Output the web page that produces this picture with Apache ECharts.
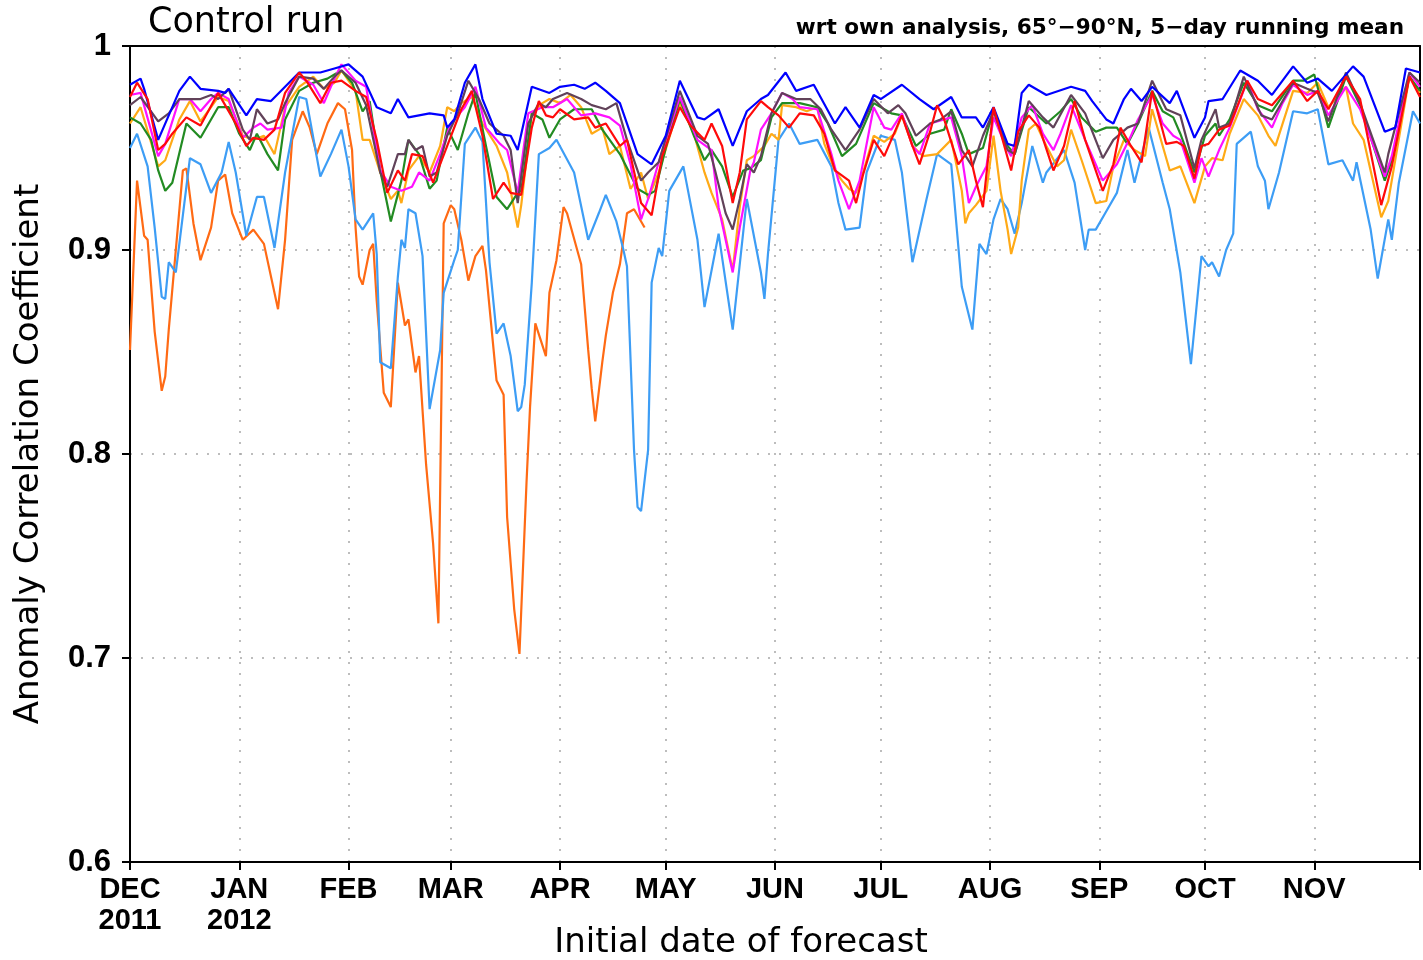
<!DOCTYPE html>
<html>
<head>
<meta charset="utf-8">
<script src="https://cdn.jsdelivr.net/npm/echarts@6/dist/echarts.min.js"></script>
<style>html,body{margin:0;padding:0;background:#fff;}#c{width:1423px;height:960px;}</style>
</head>
<body>
<div id="c"></div>
<script>
// Dates are day offsets from 1 Dec 2011
const START = Date.UTC(2011, 11, 1);
const DAY = 86400000;
const tickLabels = ['DEC\n2011','JAN\n2012','FEB','MAR','APR','MAY','JUN','JUL','AUG','SEP','OCT','NOV'];
const yTicks = [0.6, 0.7, 0.8, 0.9, 1];

const darkOrange = [[0,.851],[2,.934],[4,.907],[5,.905],[7,.860],[9,.831],[10,.838],[11,.861],[15,.939],[16,.940],[18,.913],[20,.895],[23,.911],[25,.934],[27,.937],[29,.918],[32,.905],[35,.910],[38,.903],[42,.871],[44,.905],[46,.954],[49,.968],[51,.960],[53,.947],[56,.962],[59,.972],[61,.969],[63,.949],[64,.911],[65,.887],[66,.883],[68,.900],[69,.903],[70,.875],[72,.830],[74,.823],[76,.884],[78,.863],[79,.866],[81,.840],[82,.848],[84,.795],[86,.756],[87.5,.717],[89,.913],[91,.922],[92,.920],[94,.905],[96,.885],[98,.897],[100,.902],[101,.890],[104,.836],[106,.829],[107,.769],[109,.724],[110.5,.702],[112.5,.786],[113.5,.823],[115,.864],[118,.848],[119,.879],[121,.895],[123,.921],[124,.918],[128,.893],[130,.851],[131,.832],[132,.816],[134,.845],[135,.858],[137,.879],[139,.893],[141,.918],[143,.920],[146,.911]];

const lightBlue = [[0,.950],[2,.957],[5,.941],[7,.911],[9,.877],[10,.876],[11,.894],[13,.889],[17,.945],[20,.942],[23,.928],[26,.938],[28,.953],[30,.938],[33,.907],[36,.926],[38,.926],[41,.901],[44,.938],[48,.975],[50,.974],[54,.936],[57,.947],[60,.959],[62,.941],[64,.915],[66,.910],[69,.918],[70,.898],[71,.845],[74,.842],[76,.887],[77,.905],[78,.901],[79,.920],[81,.918],[83,.897],[85,.822],[88,.851],[89,.879],[92,.895],[93,.900],[95,.952],[98,.960],[100,.953],[102,.894],[104,.859],[106,.864],[108,.848],[110,.821],[111,.823],[112,.834],[114,.884],[116,.947],[119,.950],[121,.954],[126,.938],[130,.905],[133,.918],[135,.927],[138,.914],[140,.900],[141,.892],[143,.802],[144,.774],[145,.772],[147,.802],[148,.884],[150,.901],[151,.897],[153,.929],[157,.941],[161,.905],[163,.872],[167,.908],[171,.861],[175,.925],[179,.889],[180,.876],[181,.898],[184,.954],[187,.962],[190,.952],[195,.954],[199,.941],[201,.923],[203,.910],[207,.911],[209,.938],[213,.956],[217,.954],[219,.938],[222,.894],[226,.925],[229,.947],[233,.942],[236,.882],[239,.861],[241,.903],[243,.898],[245,.915],[247,.925],[249,.920],[251,.908],[253,.923],[256,.951],[259,.933],[260,.938],[265,.949],[268,.933],[271,.900],[272,.910],[274,.910],[277,.919],[280,.928],[283,.949],[285,.933],[289,.960],[293,.933],[295,.920],[298,.889],[301,.844],[304,.897],[306,.892],[307,.894],[309,.887],[311,.900],[313,.908],[314,.952],[318,.958],[320,.941],[322,.934],[323,.920],[326,.938],[330,.968],[334,.967],[337,.969],[340,.942],[344,.944],[347,.934],[348,.943],[352,.910],[354,.886],[357,.915],[358,.905],[360,.933],[364,.968],[366,.962]];

const yellow = [[0,.962],[3,.970],[8,.941],[10,.944],[14,.964],[17,.973],[20,.963],[23,.970],[25,.975],[28,.973],[32,.956],[35,.954],[38,.956],[41,.947],[44,.970],[48,.980],[52,.985],[55,.979],[58,.982],[60,.988],[64,.978],[66,.954],[68,.954],[71,.938],[74,.925],[76,.929],[77,.923],[79,.939],[82,.946],[85,.938],[88,.951],[90,.970],[92,.968],[94,.972],[97,.975],[100,.962],[104,.951],[107,.938],[110,.911],[111,.922],[114,.967],[117,.972],[119,.974],[122,.972],[125,.976],[128,.970],[131,.957],[134,.960],[136,.947],[139,.951],[142,.930],[145,.938],[147,.925],[150,.938],[156,.972],[160,.957],[163,.938],[165,.928],[168,.915],[171,.890],[173,.921],[175,.944],[177,.946],[180,.951],[182,.957],[184,.954],[185,.971],[189,.970],[192,.968],[195,.970],[197,.952],[200,.939],[202,.934],[204,.930],[206,.928],[208,.938],[211,.956],[214,.953],[217,.957],[219,.966],[222,.951],[225,.946],[229,.947],[233,.954],[236,.929],[237,.913],[238,.918],[240,.922],[243,.929],[245,.956],[247,.929],[249,.910],[250,.898],[252,.911],[253,.934],[255,.959],[257,.962],[260,.951],[263,.941],[265,.944],[267,.959],[270,.944],[274,.923],[277,.924],[279,.941],[282,.954],[285,.949],[288,.946],[290,.969],[293,.951],[295,.939],[298,.941],[302,.923],[305,.941],[307,.945],[310,.944],[312,.957],[316,.974],[320,.966],[323,.956],[325,.951],[330,.978],[334,.977],[337,.982],[340,.970],[345,.980],[347,.962],[350,.954],[355,.916],[357,.924],[363,.985],[366,.977]];

const green = [[0,.965],[3,.962],[6,.954],[8,.939],[10,.929],[12,.933],[16,.962],[20,.955],[25,.970],[28,.970],[31,.957],[34,.949],[36,.957],[39,.947],[42,.939],[44,.964],[48,.978],[52,.982],[56,.984],[58,.986],[60,.988],[63,.982],[66,.968],[68,.973],[71,.939],[74,.914],[77,.934],[79,.954],[82,.947],[85,.930],[87,.934],[90,.960],[93,.949],[96,.967],[98,.977],[101,.951],[104,.926],[107,.920],[110,.928],[111,.929],[114,.967],[117,.964],[119,.955],[122,.964],[126,.969],[131,.969],[134,.959],[139,.947],[144,.930],[147,.927],[149,.929],[152,.950],[156,.974],[160,.956],[163,.944],[165,.949],[168,.941],[171,.926],[174,.939],[176,.940],[179,.944],[182,.965],[185,.972],[190,.972],[195,.970],[198,.962],[202,.946],[206,.952],[211,.972],[216,.967],[219,.966],[223,.951],[227,.957],[231,.959],[233,.969],[236,.957],[238,.947],[242,.950],[245,.969],[249,.951],[251,.947],[255,.970],[260,.962],[264,.968],[267,.974],[270,.965],[274,.958],[277,.960],[280,.960],[283,.952],[286,.962],[290,.978],[293,.968],[296,.965],[298,.957],[302,.938],[305,.956],[308,.962],[309,.956],[312,.964],[316,.982],[320,.971],[324,.968],[330,.983],[333,.983],[336,.986],[340,.960],[345,.985],[349,.971],[356,.934],[358,.944],[363,.985],[366,.978]];

const magenta = [[0,.976],[3,.977],[8,.946],[10,.952],[14,.974],[17,.974],[20,.968],[23,.974],[25,.977],[28,.974],[32,.955],[35,.960],[37,.962],[39,.959],[43,.960],[45,.977],[48,.985],[52,.981],[55,.972],[58,.984],[60,.991],[64,.983],[67,.980],[71,.939],[74,.931],[77,.929],[80,.931],[82,.938],[85,.934],[88,.947],[91,.962],[95,.970],[98,.980],[101,.960],[105,.952],[107,.949],[110,.928],[113,.967],[117,.970],[120,.970],[124,.974],[128,.966],[132,.967],[136,.965],[139,.961],[142,.942],[145,.915],[147,.925],[150,.943],[156,.975],[161,.954],[165,.949],[167,.921],[171,.889],[173,.911],[176,.939],[177,.943],[179,.959],[182,.967],[185,.977],[188,.974],[190,.970],[195,.969],[199,.947],[201,.934],[204,.920],[207,.934],[211,.970],[214,.960],[216,.959],[219,.967],[222,.951],[224,.947],[227,.962],[233,.965],[236,.946],[238,.923],[240,.931],[243,.941],[245,.965],[249,.949],[250,.946],[253,.965],[256,.971],[259,.957],[262,.949],[264,.957],[267,.971],[271,.954],[276,.934],[280,.942],[284,.956],[286,.964],[290,.976],[293,.962],[296,.956],[298,.954],[302,.933],[304,.945],[306,.936],[309,.949],[312,.960],[317,.983],[320,.969],[324,.960],[327,.972],[330,.981],[334,.976],[337,.978],[340,.966],[345,.980],[349,.969],[356,.936],[358,.946],[363,.987],[366,.980]];

const brown = [[0,.971],[3,.975],[8,.963],[11,.967],[14,.974],[17,.974],[20,.974],[23,.976],[25,.974],[28,.979],[32,.959],[34,.954],[36,.969],[39,.962],[42,.964],[44,.972],[48,.985],[52,.984],[55,.979],[58,.985],[60,.988],[64,.982],[67,.971],[71,.938],[73,.931],[76,.947],[78,.947],[79,.954],[81,.949],[83,.951],[85,.936],[87,.938],[90,.956],[93,.967],[96,.983],[99,.974],[102,.962],[104,.959],[106,.956],[108,.949],[110,.923],[113,.962],[116,.972],[118,.970],[120,.974],[124,.977],[128,.974],[131,.971],[135,.969],[138,.972],[141,.954],[145,.934],[147,.938],[150,.943],[156,.978],[161,.956],[164,.952],[166,.939],[169,.918],[171,.910],[173,.925],[175,.942],[177,.938],[179,.946],[182,.967],[185,.977],[189,.974],[193,.974],[196,.969],[199,.959],[203,.949],[207,.959],[211,.974],[215,.967],[218,.971],[220,.967],[223,.956],[227,.962],[230,.964],[233,.968],[236,.949],[239,.941],[242,.956],[245,.968],[249,.949],[251,.947],[253,.960],[255,.973],[259,.965],[262,.960],[267,.976],[271,.967],[276,.945],[279,.954],[283,.960],[286,.962],[290,.983],[294,.969],[298,.966],[302,.940],[304,.954],[308,.969],[309,.960],[312,.962],[316,.985],[321,.966],[324,.964],[330,.982],[334,.979],[337,.977],[340,.963],[345,.987],[349,.972],[356,.938],[357,.947],[363,.987],[366,.982]];

const blue = [[0,.981],[3,.984],[4,.979],[8,.954],[14,.978],[17,.985],[20,.979],[25,.978],[27,.977],[28,.979],[33,.966],[36,.974],[40,.973],[44,.980],[48,.987],[54,.987],[58,.989],[62,.991],[66,.985],[70,.970],[74,.967],[76,.974],[79,.965],[85,.967],[89,.966],[90,.960],[92,.964],[95,.982],[98,.991],[100,.974],[104,.957],[108,.956],[110,.949],[114,.980],[119,.977],[122,.980],[126,.981],[129,.979],[132,.982],[135,.978],[139,.972],[144,.947],[148,.942],[152,.956],[156,.983],[161,.965],[163,.964],[167,.969],[171,.951],[175,.968],[179,.974],[181,.976],[186,.987],[189,.978],[194,.981],[200,.962],[203,.970],[207,.960],[211,.976],[213,.974],[219,.981],[224,.974],[228,.969],[233,.975],[236,.965],[240,.965],[242,.960],[245,.970],[249,.952],[251,.951],[253,.977],[255,.981],[260,.976],[267,.980],[271,.978],[273,.973],[277,.964],[279,.962],[282,.974],[284,.979],[287,.973],[290,.980],[295,.972],[297,.978],[302,.955],[305,.965],[306,.973],[310,.974],[315,.988],[320,.983],[324,.976],[330,.990],[334,.982],[337,.984],[341,.978],[347,.990],[350,.985],[356,.958],[359,.960],[362,.989],[366,.987]];

const red = [[0,.975],[2,.982],[5,.974],[8,.949],[10,.952],[12,.957],[16,.965],[20,.961],[25,.977],[27,.971],[30,.962],[33,.951],[35,.955],[38,.954],[41,.959],[44,.977],[48,.987],[50,.983],[54,.972],[57,.982],[60,.983],[64,.978],[67,.975],[70,.954],[73,.928],[76,.939],[78,.934],[80,.947],[83,.946],[86,.933],[90,.951],[94,.969],[97,.978],[100,.956],[103,.925],[106,.933],[108,.928],[111,.927],[114,.960],[116,.973],[118,.966],[120,.965],[122,.969],[126,.964],[130,.965],[132,.960],[135,.962],[139,.951],[141,.954],[145,.923],[148,.917],[151,.946],[156,.970],[159,.961],[163,.954],[165,.962],[168,.951],[171,.923],[173,.938],[175,.964],[179,.973],[181,.970],[184,.966],[187,.960],[190,.967],[194,.966],[197,.957],[200,.939],[204,.934],[206,.923],[208,.937],[211,.954],[214,.946],[217,.958],[219,.966],[222,.951],[224,.942],[227,.958],[229,.971],[231,.964],[235,.942],[238,.949],[240,.934],[242,.921],[245,.970],[250,.939],[252,.958],[255,.966],[258,.960],[262,.939],[265,.951],[268,.973],[271,.954],[276,.929],[279,.942],[281,.960],[284,.951],[287,.943],[290,.978],[294,.952],[297,.953],[299,.951],[302,.935],[304,.951],[306,.952],[309,.959],[312,.961],[317,.983],[320,.974],[324,.971],[330,.983],[334,.973],[337,.978],[340,.969],[345,.985],[349,.974],[355,.922],[358,.941],[363,.985],[366,.975]];

const seriesDefs = [
  {name:'orange', data: darkOrange, color:'#ff6a14'},
  {name:'lightblue', data: lightBlue, color:'#3d9df5'},
  {name:'yellow', data: yellow, color:'#ffaa16'},
  {name:'green', data: green, color:'#228b22'},
  {name:'magenta', data: magenta, color:'#ff10ff'},
  {name:'brown', data: brown, color:'#614259'},
  {name:'blue', data: blue, color:'#0000ff'},
  {name:'red', data: red, color:'#ff0a0a'}
];

const chart = echarts.init(document.getElementById('c'), null, {renderer:'canvas'});
const tickFont = "'Liberation Sans', 'DejaVu Sans', sans-serif";
const dotted = {color:'#a8a8a8', width:1.5, type:[2,9]};
const frameLine = {show:true, lineStyle:{color:'#000', width:2}};

chart.setOption({
  useUTC: true,
  animation: false,
  backgroundColor: '#fff',
  title: [
    {text:'Control run', left:143, top:0, textStyle:{fontFamily:'DejaVu Sans', fontSize:35, fontWeight:'normal', color:'#000'}},
    {text:'wrt own analysis, 65°−90°N, 5−day running mean', right:14, top:12, textStyle:{fontFamily:'DejaVu Sans', fontSize:21.6, fontWeight:'bold', color:'#000'}}
  ],
  grid: {left:130, right:3, top:46, bottom:98, outerBoundsMode:'none', containLabel:false, show:false},
  xAxis: [{
    type:'time',
    min: START,
    max: START + 366*DAY,
    splitNumber: 12,
    minInterval: 28*DAY,
    maxInterval: 31*DAY,
    name:'Initial date of forecast',
    nameLocation:'middle',
    nameMoveOverlap: false,
    nameGap: 64,
    nameTextStyle:{fontFamily:'DejaVu Sans', fontSize:34, color:'#000', padding:[0,68,0,0]},
    axisLine: frameLine,
    axisTick:{show:true, length:8, lineStyle:{color:'#000', width:2}},
    axisLabel:{
      show:true, margin:12, color:'#000', fontFamily:tickFont, fontWeight:'bold', fontSize:29, lineHeight:31,
      showMinLabel:true, showMaxLabel:false,
      formatter: function(v){
        const d = new Date(v);
        const i = (d.getUTCFullYear()-2011)*12 + d.getUTCMonth() - 11;
        return (i>=0 && i<tickLabels.length) ? tickLabels[i] : '';
      }
    },
    splitLine:{show:true, lineStyle:dotted}
  }, {
    type:'value', position:'top', min:0, max:1,
    axisLine: frameLine, axisTick:{show:false}, axisLabel:{show:false}, splitLine:{show:false}
  }],
  yAxis: [{
    type:'value',
    min: yTicks[0],
    max: yTicks[yTicks.length-1],
    interval: 0.1,
    name:'Anomaly Correlation Coefficient',
    nameLocation:'middle',
    nameMoveOverlap: false,
    nameGap: 84,
    nameTextStyle:{fontFamily:'DejaVu Sans', fontSize:34, color:'#000'},
    axisLine: frameLine,
    axisTick:{show:true, length:8, lineStyle:{color:'#000', width:2}},
    axisLabel:{
      margin:19, color:'#000', fontFamily:"'Liberation Sans', sans-serif", fontWeight:'bold', fontSize:31,
      formatter: function(v){ const r = Math.round(v*10)/10; return r === 1 ? '1' : r.toFixed(1); }
    },
    splitLine:{show:true, lineStyle:dotted}
  }, {
    type:'value', position:'right', min:0, max:1,
    axisLine: frameLine, axisTick:{show:false}, axisLabel:{show:false}, splitLine:{show:false}
  }],
  series: seriesDefs.map((s, k) => ({
    name: s.name,
    type: 'line',
    xAxisIndex: 0,
    yAxisIndex: 0,
    showSymbol: false,
    symbol: 'none',
    clip: true,
    z: 2 + k,
    lineStyle: {color: s.color, width: 2.2},
    data: s.data.map(p => [START + p[0]*DAY, p[1]])
  }))
});
</script>
</body>
</html>
